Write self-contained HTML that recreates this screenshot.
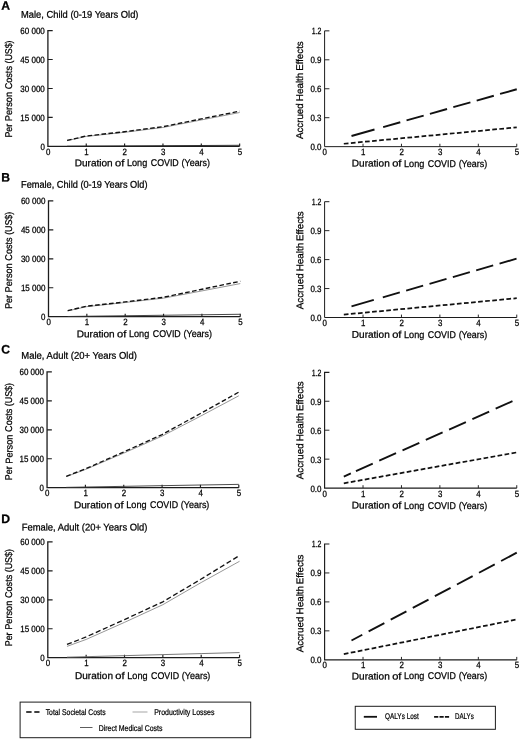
<!DOCTYPE html>
<html lang="en"><head><meta charset="utf-8"><title>Long COVID costs and health effects</title>
<style>html,body{margin:0;padding:0;background:#fff}body{width:520px;height:740px;overflow:hidden}svg{display:block;font-family:'Liberation Sans',Arial,sans-serif}text{fill:#000;stroke:#000;stroke-width:.25px}.lg{stroke-width:.22px}.tt{stroke-width:.25px}</style>
</head><body>
<svg width="520" height="740" viewBox="0 0 520 740">
<rect width="520" height="740" fill="#fff"/>
<g>
<text class="tt" x="1.2" y="9.7" font-size="12.2" font-weight="bold" transform="rotate(0.03 1.2 9.7)">A</text>
<text class="tt" x="21" y="17.7" font-size="9.8" textLength="117.5" lengthAdjust="spacingAndGlyphs" transform="rotate(0.03 21 17.7)">Male, Child (0-19 Years Old)</text>
<path d="M52.7 30.55H47.9V146.35H239.65" fill="none" stroke="#1c1c1c" stroke-width="1.3"/>
<path d="M47.9 117.4h4.8M47.9 88.45h4.8M47.9 59.5h4.8M86.25 146.35v-2.9M124.6 146.35v-2.9M162.95 146.35v-2.9M201.3 146.35v-2.9M239.65 146.35v-2.9" fill="none" stroke="#1c1c1c" stroke-width="1.15"/>
<text x="44.8" y="149.55" font-size="9.1" text-anchor="end" textLength="4.4" lengthAdjust="spacingAndGlyphs" transform="rotate(0.03 44.8 149.55)">0</text>
<text x="44.8" y="120.6" font-size="9.1" text-anchor="end" textLength="24.5" lengthAdjust="spacingAndGlyphs" transform="rotate(0.03 44.8 120.6)">15 000</text>
<text x="44.8" y="91.65" font-size="9.1" text-anchor="end" textLength="24.5" lengthAdjust="spacingAndGlyphs" transform="rotate(0.03 44.8 91.65)">30 000</text>
<text x="44.8" y="62.7" font-size="9.1" text-anchor="end" textLength="24.5" lengthAdjust="spacingAndGlyphs" transform="rotate(0.03 44.8 62.7)">45 000</text>
<text x="44.8" y="33.75" font-size="9.1" text-anchor="end" textLength="24.5" lengthAdjust="spacingAndGlyphs" transform="rotate(0.03 44.8 33.75)">60 000</text>
<text x="48.1" y="155.05" font-size="9.1" text-anchor="middle" textLength="4.4" lengthAdjust="spacingAndGlyphs" transform="rotate(0.03 48.1 155.05)">0</text>
<text x="86.45" y="155.05" font-size="9.1" text-anchor="middle" textLength="4.4" lengthAdjust="spacingAndGlyphs" transform="rotate(0.03 86.45 155.05)">1</text>
<text x="124.8" y="155.05" font-size="9.1" text-anchor="middle" textLength="4.4" lengthAdjust="spacingAndGlyphs" transform="rotate(0.03 124.8 155.05)">2</text>
<text x="163.15" y="155.05" font-size="9.1" text-anchor="middle" textLength="4.4" lengthAdjust="spacingAndGlyphs" transform="rotate(0.03 163.15 155.05)">3</text>
<text x="201.5" y="155.05" font-size="9.1" text-anchor="middle" textLength="4.4" lengthAdjust="spacingAndGlyphs" transform="rotate(0.03 201.5 155.05)">4</text>
<text x="239.85" y="155.05" font-size="9.1" text-anchor="middle" textLength="4.4" lengthAdjust="spacingAndGlyphs" transform="rotate(0.03 239.85 155.05)">5</text>
<text transform="translate(75.1 166.3) rotate(0.03)" y="0" font-size="9.8"><tspan x="-0.35" textLength="37.9" lengthAdjust="spacingAndGlyphs">Duration</tspan> <tspan x="39.95" textLength="9.3" lengthAdjust="spacingAndGlyphs">of</tspan> <tspan x="51.85" textLength="20.3" lengthAdjust="spacingAndGlyphs">Long</tspan> <tspan x="75.65" textLength="28" lengthAdjust="spacingAndGlyphs">COVID</tspan> <tspan x="106.45" textLength="28.5" lengthAdjust="spacingAndGlyphs">(Years)</tspan></text>
<text transform="translate(12.1 137.2) rotate(-89.97)" y="0" font-size="9.8"><tspan x="-0.35" textLength="13.8" lengthAdjust="spacingAndGlyphs">Per</tspan> <tspan x="16.05" textLength="29.2" lengthAdjust="spacingAndGlyphs">Person</tspan> <tspan x="47.85" textLength="23.3" lengthAdjust="spacingAndGlyphs">Costs</tspan> <tspan x="73.65" textLength="23.1" lengthAdjust="spacingAndGlyphs">(US$)</tspan></text>
<polyline points="67.08,146.25 86.25,146.14 124.6,145.93 162.95,145.71 201.3,145.5 239.65,145.29" fill="none" stroke="#222" stroke-width="0.9"/>
<polyline points="67.08,140.7 86.25,136.45 124.6,132.3 162.95,127.47 201.3,119.95 239.65,112.52" fill="none" stroke="#7c7c7c" stroke-width="0.8"/>
<polyline points="67.08,140.41 86.25,135.97 124.6,131.72 162.95,126.7 201.3,118.89 239.65,111.17" fill="none" stroke="#111" stroke-width="1.35" stroke-dasharray="4.6 2.4"/>
<path d="M329.4 30.85H324.6V146.65H516.75" fill="none" stroke="#1c1c1c" stroke-width="1.0"/>
<path d="M324.6 117.7h4.8M324.6 88.75h4.8M324.6 59.8h4.8M363.03 146.65v-2.9M401.46 146.65v-2.9M439.89 146.65v-2.9M478.32 146.65v-2.9M516.75 146.65v-2.9" fill="none" stroke="#1c1c1c" stroke-width="0.95"/>
<text x="321.5" y="149.85" font-size="9.1" text-anchor="end" textLength="11.1" lengthAdjust="spacingAndGlyphs" transform="rotate(0.03 321.5 149.85)">0.0</text>
<text x="321.5" y="120.9" font-size="9.1" text-anchor="end" textLength="11.1" lengthAdjust="spacingAndGlyphs" transform="rotate(0.03 321.5 120.9)">0.3</text>
<text x="321.5" y="91.95" font-size="9.1" text-anchor="end" textLength="11.1" lengthAdjust="spacingAndGlyphs" transform="rotate(0.03 321.5 91.95)">0.6</text>
<text x="321.5" y="63" font-size="9.1" text-anchor="end" textLength="11.1" lengthAdjust="spacingAndGlyphs" transform="rotate(0.03 321.5 63)">0.9</text>
<text x="321.5" y="34.05" font-size="9.1" text-anchor="end" textLength="9.7" lengthAdjust="spacingAndGlyphs" transform="rotate(0.03 321.5 34.05)">1.2</text>
<text x="324.8" y="155.35" font-size="9.1" text-anchor="middle" textLength="4.4" lengthAdjust="spacingAndGlyphs" transform="rotate(0.03 324.8 155.35)">0</text>
<text x="363.23" y="155.35" font-size="9.1" text-anchor="middle" textLength="4.4" lengthAdjust="spacingAndGlyphs" transform="rotate(0.03 363.23 155.35)">1</text>
<text x="401.66" y="155.35" font-size="9.1" text-anchor="middle" textLength="4.4" lengthAdjust="spacingAndGlyphs" transform="rotate(0.03 401.66 155.35)">2</text>
<text x="440.09" y="155.35" font-size="9.1" text-anchor="middle" textLength="4.4" lengthAdjust="spacingAndGlyphs" transform="rotate(0.03 440.09 155.35)">3</text>
<text x="478.52" y="155.35" font-size="9.1" text-anchor="middle" textLength="4.4" lengthAdjust="spacingAndGlyphs" transform="rotate(0.03 478.52 155.35)">4</text>
<text x="516.95" y="155.35" font-size="9.1" text-anchor="middle" textLength="4.4" lengthAdjust="spacingAndGlyphs" transform="rotate(0.03 516.95 155.35)">5</text>
<text transform="translate(352.2 166.5) rotate(0.03)" y="0" font-size="9.8"><tspan x="-0.35" textLength="37.9" lengthAdjust="spacingAndGlyphs">Duration</tspan> <tspan x="39.95" textLength="9.3" lengthAdjust="spacingAndGlyphs">of</tspan> <tspan x="51.85" textLength="20.3" lengthAdjust="spacingAndGlyphs">Long</tspan> <tspan x="75.65" textLength="28" lengthAdjust="spacingAndGlyphs">COVID</tspan> <tspan x="106.45" textLength="28.5" lengthAdjust="spacingAndGlyphs">(Years)</tspan></text>
<text transform="translate(302.9 138.7) rotate(-89.97)" y="0" font-size="9.8"><tspan x="-0.35" textLength="35.7" lengthAdjust="spacingAndGlyphs">Accrued</tspan> <tspan x="37.55" textLength="28.5" lengthAdjust="spacingAndGlyphs">Health</tspan> <tspan x="67.85" textLength="29.6" lengthAdjust="spacingAndGlyphs">Effects</tspan></text>
<polyline points="343.81,143.75 516.75,127.35" fill="none" stroke="#111" stroke-width="1.75" stroke-dasharray="4.7 2.4"/>
<polyline points="351.5,136.03 516.75,89.23" fill="none" stroke="#111" stroke-width="1.9" stroke-dasharray="23.9 9 17.8 6.5 17.8 6.5 17.8 6.5 17.8 6.5 17.8 6.5 17.8 6.5 17.8 6.5 17.8 6.5 17.8 6.5"/>
</g>
<g>
<text class="tt" x="1.2" y="181.4" font-size="12.2" font-weight="bold" transform="rotate(0.03 1.2 181.4)">B</text>
<text class="tt" x="21" y="187.8" font-size="9.8" textLength="126.5" lengthAdjust="spacingAndGlyphs" transform="rotate(0.03 21 187.8)">Female, Child (0-19 Years Old)</text>
<path d="M53.3 200.9H48.5V316.7H240.25" fill="none" stroke="#1c1c1c" stroke-width="1.3"/>
<path d="M48.5 287.75h4.8M48.5 258.8h4.8M48.5 229.85h4.8M86.85 316.7v-2.9M125.2 316.7v-2.9M163.55 316.7v-2.9M201.9 316.7v-2.9M240.25 316.7v-2.9" fill="none" stroke="#1c1c1c" stroke-width="1.15"/>
<text x="45.4" y="319.9" font-size="9.1" text-anchor="end" textLength="4.4" lengthAdjust="spacingAndGlyphs" transform="rotate(0.03 45.4 319.9)">0</text>
<text x="45.4" y="290.95" font-size="9.1" text-anchor="end" textLength="24.5" lengthAdjust="spacingAndGlyphs" transform="rotate(0.03 45.4 290.95)">15 000</text>
<text x="45.4" y="262" font-size="9.1" text-anchor="end" textLength="24.5" lengthAdjust="spacingAndGlyphs" transform="rotate(0.03 45.4 262)">30 000</text>
<text x="45.4" y="233.05" font-size="9.1" text-anchor="end" textLength="24.5" lengthAdjust="spacingAndGlyphs" transform="rotate(0.03 45.4 233.05)">45 000</text>
<text x="45.4" y="204.1" font-size="9.1" text-anchor="end" textLength="24.5" lengthAdjust="spacingAndGlyphs" transform="rotate(0.03 45.4 204.1)">60 000</text>
<text x="48.7" y="325.4" font-size="9.1" text-anchor="middle" textLength="4.4" lengthAdjust="spacingAndGlyphs" transform="rotate(0.03 48.7 325.4)">0</text>
<text x="87.05" y="325.4" font-size="9.1" text-anchor="middle" textLength="4.4" lengthAdjust="spacingAndGlyphs" transform="rotate(0.03 87.05 325.4)">1</text>
<text x="125.4" y="325.4" font-size="9.1" text-anchor="middle" textLength="4.4" lengthAdjust="spacingAndGlyphs" transform="rotate(0.03 125.4 325.4)">2</text>
<text x="163.75" y="325.4" font-size="9.1" text-anchor="middle" textLength="4.4" lengthAdjust="spacingAndGlyphs" transform="rotate(0.03 163.75 325.4)">3</text>
<text x="202.1" y="325.4" font-size="9.1" text-anchor="middle" textLength="4.4" lengthAdjust="spacingAndGlyphs" transform="rotate(0.03 202.1 325.4)">4</text>
<text x="240.45" y="325.4" font-size="9.1" text-anchor="middle" textLength="4.4" lengthAdjust="spacingAndGlyphs" transform="rotate(0.03 240.45 325.4)">5</text>
<text transform="translate(77.1 337.3) rotate(0.03)" y="0" font-size="9.8"><tspan x="-0.35" textLength="37.9" lengthAdjust="spacingAndGlyphs">Duration</tspan> <tspan x="39.95" textLength="9.3" lengthAdjust="spacingAndGlyphs">of</tspan> <tspan x="51.85" textLength="20.3" lengthAdjust="spacingAndGlyphs">Long</tspan> <tspan x="75.65" textLength="28" lengthAdjust="spacingAndGlyphs">COVID</tspan> <tspan x="106.45" textLength="28.5" lengthAdjust="spacingAndGlyphs">(Years)</tspan></text>
<text transform="translate(12.1 308.5) rotate(-89.97)" y="0" font-size="9.8"><tspan x="-0.35" textLength="13.8" lengthAdjust="spacingAndGlyphs">Per</tspan> <tspan x="16.05" textLength="29.2" lengthAdjust="spacingAndGlyphs">Person</tspan> <tspan x="47.85" textLength="23.3" lengthAdjust="spacingAndGlyphs">Costs</tspan> <tspan x="73.65" textLength="23.1" lengthAdjust="spacingAndGlyphs">(US$)</tspan></text>
<polyline points="67.67,316.51 86.85,316.22 125.2,315.74 163.55,315.25 201.9,314.77 240.25,314.27" fill="none" stroke="#333" stroke-width="0.9"/>
<polyline points="67.67,310.89 86.85,306.64 125.2,302.5 163.55,298.15 201.9,290.92 240.25,283.58" fill="none" stroke="#7c7c7c" stroke-width="0.8"/>
<polyline points="67.67,310.6 86.85,306.16 125.2,301.92 163.55,297.28 201.9,289.27 240.25,281.27" fill="none" stroke="#111" stroke-width="1.4" stroke-dasharray="4.6 2.4"/>
<path d="M329.4 201.7H324.6V317.5H516.75" fill="none" stroke="#1c1c1c" stroke-width="1.0"/>
<path d="M324.6 288.55h4.8M324.6 259.6h4.8M324.6 230.65h4.8M363.03 317.5v-2.9M401.46 317.5v-2.9M439.89 317.5v-2.9M478.32 317.5v-2.9M516.75 317.5v-2.9" fill="none" stroke="#1c1c1c" stroke-width="0.95"/>
<text x="321.5" y="320.7" font-size="9.1" text-anchor="end" textLength="11.1" lengthAdjust="spacingAndGlyphs" transform="rotate(0.03 321.5 320.7)">0.0</text>
<text x="321.5" y="291.75" font-size="9.1" text-anchor="end" textLength="11.1" lengthAdjust="spacingAndGlyphs" transform="rotate(0.03 321.5 291.75)">0.3</text>
<text x="321.5" y="262.8" font-size="9.1" text-anchor="end" textLength="11.1" lengthAdjust="spacingAndGlyphs" transform="rotate(0.03 321.5 262.8)">0.6</text>
<text x="321.5" y="233.85" font-size="9.1" text-anchor="end" textLength="11.1" lengthAdjust="spacingAndGlyphs" transform="rotate(0.03 321.5 233.85)">0.9</text>
<text x="321.5" y="204.9" font-size="9.1" text-anchor="end" textLength="9.7" lengthAdjust="spacingAndGlyphs" transform="rotate(0.03 321.5 204.9)">1.2</text>
<text x="324.8" y="326.2" font-size="9.1" text-anchor="middle" textLength="4.4" lengthAdjust="spacingAndGlyphs" transform="rotate(0.03 324.8 326.2)">0</text>
<text x="363.23" y="326.2" font-size="9.1" text-anchor="middle" textLength="4.4" lengthAdjust="spacingAndGlyphs" transform="rotate(0.03 363.23 326.2)">1</text>
<text x="401.66" y="326.2" font-size="9.1" text-anchor="middle" textLength="4.4" lengthAdjust="spacingAndGlyphs" transform="rotate(0.03 401.66 326.2)">2</text>
<text x="440.09" y="326.2" font-size="9.1" text-anchor="middle" textLength="4.4" lengthAdjust="spacingAndGlyphs" transform="rotate(0.03 440.09 326.2)">3</text>
<text x="478.52" y="326.2" font-size="9.1" text-anchor="middle" textLength="4.4" lengthAdjust="spacingAndGlyphs" transform="rotate(0.03 478.52 326.2)">4</text>
<text x="516.95" y="326.2" font-size="9.1" text-anchor="middle" textLength="4.4" lengthAdjust="spacingAndGlyphs" transform="rotate(0.03 516.95 326.2)">5</text>
<text transform="translate(352.2 337.7) rotate(0.03)" y="0" font-size="9.8"><tspan x="-0.35" textLength="37.9" lengthAdjust="spacingAndGlyphs">Duration</tspan> <tspan x="39.95" textLength="9.3" lengthAdjust="spacingAndGlyphs">of</tspan> <tspan x="51.85" textLength="20.3" lengthAdjust="spacingAndGlyphs">Long</tspan> <tspan x="75.65" textLength="28" lengthAdjust="spacingAndGlyphs">COVID</tspan> <tspan x="106.45" textLength="28.5" lengthAdjust="spacingAndGlyphs">(Years)</tspan></text>
<text transform="translate(303.2 308.8) rotate(-89.97)" y="0" font-size="9.8"><tspan x="-0.35" textLength="35.7" lengthAdjust="spacingAndGlyphs">Accrued</tspan> <tspan x="37.55" textLength="28.5" lengthAdjust="spacingAndGlyphs">Health</tspan> <tspan x="67.85" textLength="29.6" lengthAdjust="spacingAndGlyphs">Effects</tspan></text>
<polyline points="343.81,314.61 516.75,298.2" fill="none" stroke="#111" stroke-width="1.75" stroke-dasharray="4.7 2.4"/>
<polyline points="351.5,306.4 516.75,258.63" fill="none" stroke="#111" stroke-width="1.9" stroke-dasharray="23.2 9.4 17.7 6.6 17.7 6.6 17.7 6.6 17.7 6.6 17.7 6.6 17.7 6.6 17.7 6.6 17.7 6.6 17.7 6.6"/>
</g>
<g>
<text class="tt" x="1.2" y="353.4" font-size="12.2" font-weight="bold" transform="rotate(0.03 1.2 353.4)">C</text>
<text class="tt" x="21.3" y="358.8" font-size="9.8" textLength="115.6" lengthAdjust="spacingAndGlyphs" transform="rotate(0.03 21.3 358.8)">Male, Adult (20+ Years Old)</text>
<path d="M51.85 371.9H47.05V487.7H238.8" fill="none" stroke="#1c1c1c" stroke-width="1.3"/>
<path d="M47.05 458.75h4.8M47.05 429.8h4.8M47.05 400.85h4.8M85.4 487.7v-2.9M123.75 487.7v-2.9M162.1 487.7v-2.9M200.45 487.7v-2.9M238.8 487.7v-2.9" fill="none" stroke="#1c1c1c" stroke-width="1.15"/>
<text x="43.95" y="490.9" font-size="9.1" text-anchor="end" textLength="4.4" lengthAdjust="spacingAndGlyphs" transform="rotate(0.03 43.95 490.9)">0</text>
<text x="43.95" y="461.95" font-size="9.1" text-anchor="end" textLength="24.5" lengthAdjust="spacingAndGlyphs" transform="rotate(0.03 43.95 461.95)">15 000</text>
<text x="43.95" y="433" font-size="9.1" text-anchor="end" textLength="24.5" lengthAdjust="spacingAndGlyphs" transform="rotate(0.03 43.95 433)">30 000</text>
<text x="43.95" y="404.05" font-size="9.1" text-anchor="end" textLength="24.5" lengthAdjust="spacingAndGlyphs" transform="rotate(0.03 43.95 404.05)">45 000</text>
<text x="43.95" y="375.1" font-size="9.1" text-anchor="end" textLength="24.5" lengthAdjust="spacingAndGlyphs" transform="rotate(0.03 43.95 375.1)">60 000</text>
<text x="47.25" y="496.4" font-size="9.1" text-anchor="middle" textLength="4.4" lengthAdjust="spacingAndGlyphs" transform="rotate(0.03 47.25 496.4)">0</text>
<text x="85.6" y="496.4" font-size="9.1" text-anchor="middle" textLength="4.4" lengthAdjust="spacingAndGlyphs" transform="rotate(0.03 85.6 496.4)">1</text>
<text x="123.95" y="496.4" font-size="9.1" text-anchor="middle" textLength="4.4" lengthAdjust="spacingAndGlyphs" transform="rotate(0.03 123.95 496.4)">2</text>
<text x="162.3" y="496.4" font-size="9.1" text-anchor="middle" textLength="4.4" lengthAdjust="spacingAndGlyphs" transform="rotate(0.03 162.3 496.4)">3</text>
<text x="200.65" y="496.4" font-size="9.1" text-anchor="middle" textLength="4.4" lengthAdjust="spacingAndGlyphs" transform="rotate(0.03 200.65 496.4)">4</text>
<text x="239" y="496.4" font-size="9.1" text-anchor="middle" textLength="4.4" lengthAdjust="spacingAndGlyphs" transform="rotate(0.03 239 496.4)">5</text>
<text transform="translate(74.4 508.3) rotate(0.03)" y="0" font-size="9.8"><tspan x="-0.35" textLength="37.9" lengthAdjust="spacingAndGlyphs">Duration</tspan> <tspan x="39.95" textLength="9.3" lengthAdjust="spacingAndGlyphs">of</tspan> <tspan x="51.85" textLength="20.3" lengthAdjust="spacingAndGlyphs">Long</tspan> <tspan x="75.65" textLength="28" lengthAdjust="spacingAndGlyphs">COVID</tspan> <tspan x="106.45" textLength="28.5" lengthAdjust="spacingAndGlyphs">(Years)</tspan></text>
<text transform="translate(12.4 479.8) rotate(-89.97)" y="0" font-size="9.8"><tspan x="-0.35" textLength="13.8" lengthAdjust="spacingAndGlyphs">Per</tspan> <tspan x="16.05" textLength="29.2" lengthAdjust="spacingAndGlyphs">Person</tspan> <tspan x="47.85" textLength="23.3" lengthAdjust="spacingAndGlyphs">Costs</tspan> <tspan x="73.65" textLength="23.1" lengthAdjust="spacingAndGlyphs">(US$)</tspan></text>
<polyline points="66.23,487.37 85.4,487.02 123.75,486.35 162.1,485.67 200.45,485 238.8,484.36" fill="none" stroke="#3a3a3a" stroke-width="0.9"/>
<polyline points="66.23,476.64 85.4,469.5 123.75,453.1 162.1,436.11 200.45,416.23 238.8,395.77" fill="none" stroke="#7c7c7c" stroke-width="0.8"/>
<polyline points="66.23,476.26 85.4,468.92 123.75,451.94 162.1,434.57 200.45,413.53 238.8,392.11" fill="none" stroke="#111" stroke-width="1.35" stroke-dasharray="4.7 2.5"/>
<path d="M329.4 372.3H324.6V488.1H516.75" fill="none" stroke="#1c1c1c" stroke-width="1.15"/>
<path d="M324.6 459.15h4.8M324.6 430.2h4.8M324.6 401.25h4.8M363.03 488.1v-2.9M401.46 488.1v-2.9M439.89 488.1v-2.9M478.32 488.1v-2.9M516.75 488.1v-2.9" fill="none" stroke="#1c1c1c" stroke-width="0.95"/>
<text x="321.5" y="491.7" font-size="9.1" text-anchor="end" textLength="11.1" lengthAdjust="spacingAndGlyphs" transform="rotate(0.03 321.5 491.7)">0.0</text>
<text x="321.5" y="462.75" font-size="9.1" text-anchor="end" textLength="11.1" lengthAdjust="spacingAndGlyphs" transform="rotate(0.03 321.5 462.75)">0.3</text>
<text x="321.5" y="433.8" font-size="9.1" text-anchor="end" textLength="11.1" lengthAdjust="spacingAndGlyphs" transform="rotate(0.03 321.5 433.8)">0.6</text>
<text x="321.5" y="404.85" font-size="9.1" text-anchor="end" textLength="11.1" lengthAdjust="spacingAndGlyphs" transform="rotate(0.03 321.5 404.85)">0.9</text>
<text x="321.5" y="375.9" font-size="9.1" text-anchor="end" textLength="9.7" lengthAdjust="spacingAndGlyphs" transform="rotate(0.03 321.5 375.9)">1.2</text>
<text x="324.8" y="497.2" font-size="9.1" text-anchor="middle" textLength="4.4" lengthAdjust="spacingAndGlyphs" transform="rotate(0.03 324.8 497.2)">0</text>
<text x="363.23" y="497.2" font-size="9.1" text-anchor="middle" textLength="4.4" lengthAdjust="spacingAndGlyphs" transform="rotate(0.03 363.23 497.2)">1</text>
<text x="401.66" y="497.2" font-size="9.1" text-anchor="middle" textLength="4.4" lengthAdjust="spacingAndGlyphs" transform="rotate(0.03 401.66 497.2)">2</text>
<text x="440.09" y="497.2" font-size="9.1" text-anchor="middle" textLength="4.4" lengthAdjust="spacingAndGlyphs" transform="rotate(0.03 440.09 497.2)">3</text>
<text x="478.52" y="497.2" font-size="9.1" text-anchor="middle" textLength="4.4" lengthAdjust="spacingAndGlyphs" transform="rotate(0.03 478.52 497.2)">4</text>
<text x="516.95" y="497.2" font-size="9.1" text-anchor="middle" textLength="4.4" lengthAdjust="spacingAndGlyphs" transform="rotate(0.03 516.95 497.2)">5</text>
<text transform="translate(352.2 508.5) rotate(0.03)" y="0" font-size="9.8"><tspan x="-0.35" textLength="37.9" lengthAdjust="spacingAndGlyphs">Duration</tspan> <tspan x="39.95" textLength="9.3" lengthAdjust="spacingAndGlyphs">of</tspan> <tspan x="51.85" textLength="20.3" lengthAdjust="spacingAndGlyphs">Long</tspan> <tspan x="75.65" textLength="28" lengthAdjust="spacingAndGlyphs">COVID</tspan> <tspan x="106.45" textLength="28.5" lengthAdjust="spacingAndGlyphs">(Years)</tspan></text>
<text transform="translate(303.2 478.8) rotate(-89.97)" y="0" font-size="9.8"><tspan x="-0.35" textLength="35.7" lengthAdjust="spacingAndGlyphs">Accrued</tspan> <tspan x="37.55" textLength="28.5" lengthAdjust="spacingAndGlyphs">Health</tspan> <tspan x="67.85" textLength="29.6" lengthAdjust="spacingAndGlyphs">Effects</tspan></text>
<polyline points="343.81,483.28 516.75,452.4" fill="none" stroke="#111" stroke-width="1.75" stroke-dasharray="4.7 2.4"/>
<polyline points="343.81,476.52 516.75,399.32" fill="none" stroke="#111" stroke-width="1.9" stroke-dasharray="7.7 5.6 18.4 7.1 18.4 7.1 18.4 7.1 18.4 7.1 18.4 7.1 18.4 7.1 18.4 7.1 18.4 7.1 18.4 7.1"/>
</g>
<g>
<text class="tt" x="1.2" y="523.1" font-size="12.2" font-weight="bold" transform="rotate(0.03 1.2 523.1)">D</text>
<text class="tt" x="21.7" y="530.5" font-size="9.8" textLength="125.8" lengthAdjust="spacingAndGlyphs" transform="rotate(0.03 21.7 530.5)">Female, Adult (20+ Years Old)</text>
<path d="M52.6 541.9H47.8V657.7H239.55" fill="none" stroke="#1c1c1c" stroke-width="1.3"/>
<path d="M47.8 628.75h4.8M47.8 599.8h4.8M47.8 570.85h4.8M86.15 657.7v-2.9M124.5 657.7v-2.9M162.85 657.7v-2.9M201.2 657.7v-2.9M239.55 657.7v-2.9" fill="none" stroke="#1c1c1c" stroke-width="1.15"/>
<text x="44.7" y="660.9" font-size="9.1" text-anchor="end" textLength="4.4" lengthAdjust="spacingAndGlyphs" transform="rotate(0.03 44.7 660.9)">0</text>
<text x="44.7" y="631.95" font-size="9.1" text-anchor="end" textLength="24.5" lengthAdjust="spacingAndGlyphs" transform="rotate(0.03 44.7 631.95)">15 000</text>
<text x="44.7" y="603" font-size="9.1" text-anchor="end" textLength="24.5" lengthAdjust="spacingAndGlyphs" transform="rotate(0.03 44.7 603)">30 000</text>
<text x="44.7" y="574.05" font-size="9.1" text-anchor="end" textLength="24.5" lengthAdjust="spacingAndGlyphs" transform="rotate(0.03 44.7 574.05)">45 000</text>
<text x="44.7" y="545.1" font-size="9.1" text-anchor="end" textLength="24.5" lengthAdjust="spacingAndGlyphs" transform="rotate(0.03 44.7 545.1)">60 000</text>
<text x="48" y="666.4" font-size="9.1" text-anchor="middle" textLength="4.4" lengthAdjust="spacingAndGlyphs" transform="rotate(0.03 48 666.4)">0</text>
<text x="86.35" y="666.4" font-size="9.1" text-anchor="middle" textLength="4.4" lengthAdjust="spacingAndGlyphs" transform="rotate(0.03 86.35 666.4)">1</text>
<text x="124.7" y="666.4" font-size="9.1" text-anchor="middle" textLength="4.4" lengthAdjust="spacingAndGlyphs" transform="rotate(0.03 124.7 666.4)">2</text>
<text x="163.05" y="666.4" font-size="9.1" text-anchor="middle" textLength="4.4" lengthAdjust="spacingAndGlyphs" transform="rotate(0.03 163.05 666.4)">3</text>
<text x="201.4" y="666.4" font-size="9.1" text-anchor="middle" textLength="4.4" lengthAdjust="spacingAndGlyphs" transform="rotate(0.03 201.4 666.4)">4</text>
<text x="239.75" y="666.4" font-size="9.1" text-anchor="middle" textLength="4.4" lengthAdjust="spacingAndGlyphs" transform="rotate(0.03 239.75 666.4)">5</text>
<text transform="translate(75.4 679.1) rotate(0.03)" y="0" font-size="9.8"><tspan x="-0.35" textLength="37.9" lengthAdjust="spacingAndGlyphs">Duration</tspan> <tspan x="39.95" textLength="9.3" lengthAdjust="spacingAndGlyphs">of</tspan> <tspan x="51.85" textLength="20.3" lengthAdjust="spacingAndGlyphs">Long</tspan> <tspan x="75.65" textLength="28" lengthAdjust="spacingAndGlyphs">COVID</tspan> <tspan x="106.45" textLength="28.5" lengthAdjust="spacingAndGlyphs">(Years)</tspan></text>
<text transform="translate(12.1 645.9) rotate(-89.97)" y="0" font-size="9.8"><tspan x="-0.35" textLength="13.8" lengthAdjust="spacingAndGlyphs">Per</tspan> <tspan x="16.05" textLength="29.2" lengthAdjust="spacingAndGlyphs">Person</tspan> <tspan x="47.85" textLength="23.3" lengthAdjust="spacingAndGlyphs">Costs</tspan> <tspan x="73.65" textLength="23.1" lengthAdjust="spacingAndGlyphs">(US$)</tspan></text>
<polyline points="66.98,657.18 86.15,656.68 124.5,655.65 162.85,654.61 201.2,653.59 239.55,652.57" fill="none" stroke="#6a6a6a" stroke-width="0.9"/>
<polyline points="66.98,646.39 86.15,639.44 124.5,622.36 162.85,604.7 201.2,582.51 239.55,561.28" fill="none" stroke="#7c7c7c" stroke-width="0.8"/>
<polyline points="66.98,644.46 86.15,636.93 124.5,619.56 162.85,601.81 201.2,579.03 239.55,555.49" fill="none" stroke="#111" stroke-width="1.3" stroke-dasharray="5.1 2.7"/>
<path d="M329.4 544H324.6V659.8H516.75" fill="none" stroke="#1c1c1c" stroke-width="1.15"/>
<path d="M324.6 630.85h4.8M324.6 601.9h4.8M324.6 572.95h4.8M363.03 659.8v-2.9M401.46 659.8v-2.9M439.89 659.8v-2.9M478.32 659.8v-2.9M516.75 659.8v-2.9" fill="none" stroke="#1c1c1c" stroke-width="0.95"/>
<text x="321.5" y="663" font-size="9.1" text-anchor="end" textLength="11.1" lengthAdjust="spacingAndGlyphs" transform="rotate(0.03 321.5 663)">0.0</text>
<text x="321.5" y="634.05" font-size="9.1" text-anchor="end" textLength="11.1" lengthAdjust="spacingAndGlyphs" transform="rotate(0.03 321.5 634.05)">0.3</text>
<text x="321.5" y="605.1" font-size="9.1" text-anchor="end" textLength="11.1" lengthAdjust="spacingAndGlyphs" transform="rotate(0.03 321.5 605.1)">0.6</text>
<text x="321.5" y="576.15" font-size="9.1" text-anchor="end" textLength="11.1" lengthAdjust="spacingAndGlyphs" transform="rotate(0.03 321.5 576.15)">0.9</text>
<text x="321.5" y="547.2" font-size="9.1" text-anchor="end" textLength="9.7" lengthAdjust="spacingAndGlyphs" transform="rotate(0.03 321.5 547.2)">1.2</text>
<text x="324.8" y="668.5" font-size="9.1" text-anchor="middle" textLength="4.4" lengthAdjust="spacingAndGlyphs" transform="rotate(0.03 324.8 668.5)">0</text>
<text x="363.23" y="668.5" font-size="9.1" text-anchor="middle" textLength="4.4" lengthAdjust="spacingAndGlyphs" transform="rotate(0.03 363.23 668.5)">1</text>
<text x="401.66" y="668.5" font-size="9.1" text-anchor="middle" textLength="4.4" lengthAdjust="spacingAndGlyphs" transform="rotate(0.03 401.66 668.5)">2</text>
<text x="440.09" y="668.5" font-size="9.1" text-anchor="middle" textLength="4.4" lengthAdjust="spacingAndGlyphs" transform="rotate(0.03 440.09 668.5)">3</text>
<text x="478.52" y="668.5" font-size="9.1" text-anchor="middle" textLength="4.4" lengthAdjust="spacingAndGlyphs" transform="rotate(0.03 478.52 668.5)">4</text>
<text x="516.95" y="668.5" font-size="9.1" text-anchor="middle" textLength="4.4" lengthAdjust="spacingAndGlyphs" transform="rotate(0.03 516.95 668.5)">5</text>
<text transform="translate(352.2 679.4) rotate(0.03)" y="0" font-size="9.8"><tspan x="-0.35" textLength="37.9" lengthAdjust="spacingAndGlyphs">Duration</tspan> <tspan x="39.95" textLength="9.3" lengthAdjust="spacingAndGlyphs">of</tspan> <tspan x="51.85" textLength="20.3" lengthAdjust="spacingAndGlyphs">Long</tspan> <tspan x="75.65" textLength="28" lengthAdjust="spacingAndGlyphs">COVID</tspan> <tspan x="106.45" textLength="28.5" lengthAdjust="spacingAndGlyphs">(Years)</tspan></text>
<text transform="translate(303.2 652) rotate(-89.97)" y="0" font-size="9.8"><tspan x="-0.35" textLength="35.7" lengthAdjust="spacingAndGlyphs">Accrued</tspan> <tspan x="37.55" textLength="28.5" lengthAdjust="spacingAndGlyphs">Health</tspan> <tspan x="67.85" textLength="29.6" lengthAdjust="spacingAndGlyphs">Effects</tspan></text>
<polyline points="343.81,654.11 516.75,619.46" fill="none" stroke="#111" stroke-width="1.75" stroke-dasharray="4.7 2.4"/>
<polyline points="351.5,640.5 516.75,552.68" fill="none" stroke="#111" stroke-width="1.9" stroke-dasharray="12.2 7.2 17.8 7.2 17.8 7.2 17.8 7.2 17.8 7.2 17.8 7.2 17.8 7.2 17.8 7.2 17.8 7.2 17.8 7.2"/>
</g>
<g>
<rect x="20.1" y="702.1" width="230.6" height="35.6" fill="#fff" stroke="#1c1c1c" stroke-width="1"/>
<path d="M26.2 712h13.3" stroke="#000" stroke-width="1.45" stroke-dasharray="5.4 2.7" fill="none"/>
<text class="lg" x="45.7" y="715.1" font-size="8.4" textLength="60" lengthAdjust="spacingAndGlyphs" transform="rotate(0.03 45.7 715.1)">Total Societal Costs</text>
<path d="M132.5 712h15" stroke="#b4b4b4" stroke-width="1.2" fill="none"/>
<text class="lg" x="154.2" y="715.1" font-size="8.4" textLength="60.3" lengthAdjust="spacingAndGlyphs" transform="rotate(0.03 154.2 715.1)">Productivity Losses</text>
<path d="M80 727.5h12.5" stroke="#333" stroke-width="0.8" fill="none"/>
<text class="lg" x="98.7" y="730.6" font-size="8.4" textLength="63.8" lengthAdjust="spacingAndGlyphs" transform="rotate(0.03 98.7 730.6)">Direct Medical Costs</text>
<rect x="355.25" y="706.3" width="140.15" height="23" fill="#fff" stroke="#1c1c1c" stroke-width="1"/>
<path d="M363.8 716.8h13.2" stroke="#111" stroke-width="1.8" fill="none"/>
<text class="lg" x="385" y="719.2" font-size="8.4" textLength="33.8" lengthAdjust="spacingAndGlyphs" transform="rotate(0.03 385 719.2)">QALYs Lost</text>
<path d="M434.1 716.8h15" stroke="#111" stroke-width="1.7" stroke-dasharray="4.2 1.2" fill="none"/>
<text class="lg" x="454.9" y="719.2" font-size="8.4" textLength="18.9" lengthAdjust="spacingAndGlyphs" transform="rotate(0.03 454.9 719.2)">DALYs</text>
</g>
</svg></body></html>
